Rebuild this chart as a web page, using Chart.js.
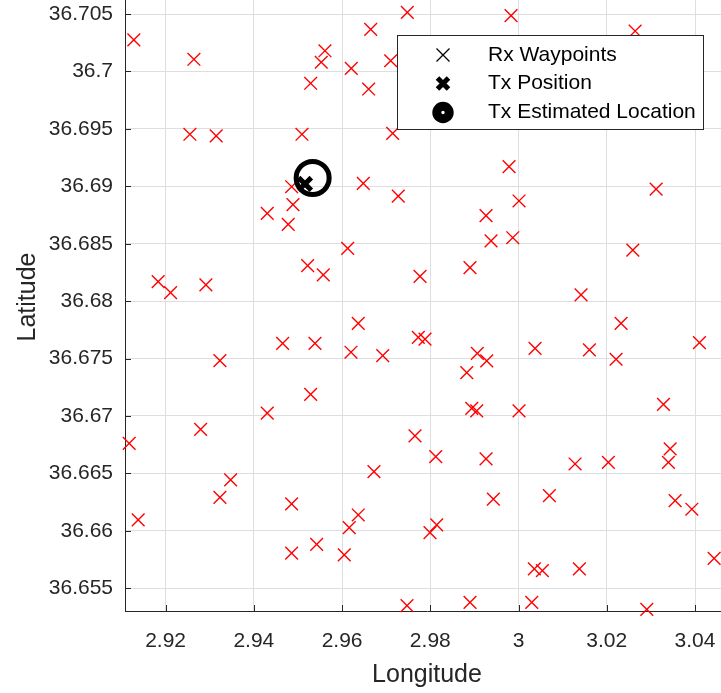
<!DOCTYPE html>
<html>
<head>
<meta charset="utf-8">
<script src="https://cdn.jsdelivr.net/npm/chart.js@4.4.0/dist/chart.umd.min.js"></script>
<style>
  html, body { margin: 0; padding: 0; background: #fff; overflow: hidden; }
  body { width: 721px; height: 693px; position: relative; }
  #wrap { position: absolute; left: 0; top: -17px; }
</style>
</head>
<body>
<div id="wrap"><canvas id="geoChart" width="729" height="710"></canvas></div>
<script>
// Rx waypoints (longitude / latitude)
const rxLon = [
  2.9128, 2.92642, 2.95612, 2.95528, 2.96649, 2.97479, 2.96209, 2.97102, 2.95288, 2.96603,
  2.92551, 2.93147, 2.95091, 2.97147, 2.94857, 2.96481, 2.97274, 2.94887, 2.94304, 2.94780,
  2.96127, 2.95220, 2.95574, 2.97767, 2.91832, 2.92113, 2.92914, 2.99830, 3.02642, 2.99785,
  3.03118, 3.00011, 2.99263, 2.99377, 2.99869, 2.98900, 3.02590, 3.01417, 2.96367, 2.94653,
  2.95386, 2.96202, 2.96921, 2.93231, 2.95288, 2.94304, 2.92794, 2.91175, 2.97728, 2.97880,
  2.97653, 2.96723, 2.93474, 2.93231, 2.94857, 2.96367, 2.96163, 2.91379, 2.94857, 2.95424,
  2.96050, 2.97472, 3.02324, 3.04100, 2.99066, 2.99279, 3.00374, 3.01606, 3.02211, 2.98826,
  2.98939, 2.99052, 3.00011, 3.03284, 2.98123, 2.99263, 3.01281, 3.02036, 3.03436, 3.03397,
  2.99429, 3.00699, 3.03549, 3.03928, 2.98145, 2.97993, 3.04433, 3.00358, 3.00540, 3.01379,
  2.98900, 3.00299, 3.02907
];
const rxLat = [
  36.70274, 36.70106, 36.70180, 36.70080, 36.70367, 36.70515, 36.70027, 36.70093, 36.69897, 36.69847,
  36.69453, 36.69438, 36.69453, 36.69461, 36.68996, 36.69026, 36.68915, 36.68840, 36.68765, 36.68669,
  36.68460, 36.68309, 36.68228, 36.68216, 36.68169, 36.68074, 36.68141, 36.70485, 36.70352, 36.69171,
  36.68976, 36.68872, 36.68744, 36.68524, 36.68552, 36.68291, 36.68445, 36.68054, 36.67807, 36.67633,
  36.67633, 36.67555, 36.67525, 36.67482, 36.67189, 36.67024, 36.66884, 36.66762, 36.67685, 36.67670,
  36.66826, 36.66515, 36.66443, 36.66292, 36.66234, 36.66138, 36.66028, 36.66095, 36.65805, 36.65883,
  36.65790, 36.65348, 36.67807, 36.67638, 36.67546, 36.67479, 36.67589, 36.67575, 36.67494, 36.67377,
  36.67067, 36.67044, 36.67044, 36.67102, 36.66646, 36.66626, 36.66582, 36.66597, 36.66713, 36.66597,
  36.66277, 36.66306, 36.66263, 36.66188, 36.66051, 36.65984, 36.65761, 36.65668, 36.65653, 36.65668,
  36.65378, 36.65378, 36.65317
];
const txPosLon = [2.95159];
const txPosLat = [36.69020];
const txEstLon = [2.95333];
const txEstLat = [36.69072];

const xTicks = [2.92, 2.94, 2.96, 2.98, 3.00, 3.02, 3.04];
const yTicks = [36.655, 36.66, 36.665, 36.67, 36.675, 36.68, 36.685, 36.69, 36.695, 36.7, 36.705];
const xRange = [2.9108, 3.0477];
const yRange = [36.65302, 36.7077];

const legendLabels = ['Rx Waypoints', 'Tx Position', 'Tx Estimated Location'];

const axisCol = '#262626';
Chart.defaults.font.family = '"Liberation Sans", Arial, Helvetica, sans-serif';

function pts(xs, ys) {
  return xs.map((x, i) => ({ x: x, y: ys[i] }));
}
function fmt(v) {
  return parseFloat(v.toFixed(4)).toString();
}
// keep the plot box exactly where the axes put it
function noPad(s) {
  s.paddingTop = 0; s.paddingBottom = 0; s.paddingLeft = 0; s.paddingRight = 0;
}

// MATLAB style inward tick marks
const innerTicks = {
  id: 'innerTicks',
  beforeDatasetsDraw(chart) {
    const { ctx, chartArea: a, scales } = chart;
    ctx.save();
    ctx.strokeStyle = axisCol;
    ctx.lineWidth = 1;
    ctx.beginPath();
    yTicks.forEach(v => {
      const y = Math.round(scales.y.getPixelForValue(v)) + 0.5;
      ctx.moveTo(a.left, y); ctx.lineTo(a.left + 6, y);
    });
    xTicks.forEach(v => {
      const x = Math.round(scales.x.getPixelForValue(v)) + 0.5;
      ctx.moveTo(x, a.bottom); ctx.lineTo(x, a.bottom - 6);
    });
    ctx.stroke();
    ctx.restore();
  }
};

// legend box in the upper right
const boxLegend = {
  id: 'boxLegend',
  afterDatasetsDraw(chart) {
    const ctx = chart.ctx;
    const bx = 397.5, by = 52.5, bw = 306, bh = 94;
    ctx.save();
    ctx.fillStyle = '#fff';
    ctx.fillRect(bx, by, bw, bh);
    ctx.strokeStyle = axisCol;
    ctx.lineWidth = 1;
    ctx.strokeRect(bx, by, bw, bh);

    const rows = [72, 100.5, 129.5];
    const mx = 443;
    // Rx marker
    ctx.strokeStyle = '#000';
    ctx.lineWidth = 1.3;
    ctx.beginPath();
    ctx.moveTo(mx - 6.5, rows[0] - 6.5); ctx.lineTo(mx + 6.5, rows[0] + 6.5);
    ctx.moveTo(mx + 6.5, rows[0] - 6.5); ctx.lineTo(mx - 6.5, rows[0] + 6.5);
    ctx.stroke();
    // Tx position marker
    ctx.lineWidth = 5;
    ctx.beginPath();
    ctx.moveTo(mx - 5.5, rows[1] - 5.5); ctx.lineTo(mx + 5.5, rows[1] + 5.5);
    ctx.moveTo(mx + 5.5, rows[1] - 5.5); ctx.lineTo(mx - 5.5, rows[1] + 5.5);
    ctx.stroke();
    // Tx estimated marker
    ctx.lineWidth = 9;
    ctx.beginPath();
    ctx.arc(mx, rows[2], 6.2, 0, Math.PI * 2);
    ctx.stroke();

    ctx.fillStyle = '#000';
    ctx.font = '21px "Liberation Sans", Arial, sans-serif';
    ctx.textBaseline = 'middle';
    ctx.textAlign = 'left';
    legendLabels.forEach((t, i) => ctx.fillText(t, 488, rows[i]));
    ctx.restore();
  }
};

const ctx = document.getElementById('geoChart').getContext('2d');
new Chart(ctx, {
  type: 'scatter',
  data: {
    datasets: [
      {
        label: legendLabels[0],
        data: pts(rxLon, rxLat),
        pointStyle: 'crossRot',
        pointRadius: 9,
        borderColor: '#ff0000',
        borderWidth: 1.4,
        order: 3,
        clip: false
      },
      {
        label: legendLabels[1],
        data: pts(txPosLon, txPosLat),
        pointStyle: 'crossRot',
        pointRadius: 9,
        borderColor: '#000',
        borderWidth: 5,
        order: 2,
        clip: false
      },
      {
        label: legendLabels[2],
        data: pts(txEstLon, txEstLat),
        pointStyle: 'circle',
        pointRadius: 16.5,
        borderColor: '#000',
        backgroundColor: 'rgba(0,0,0,0)',
        borderWidth: 5,
        order: 1,
        clip: false
      }
    ]
  },
  options: {
    responsive: false,
    animation: false,
    layout: { padding: 0, autoPadding: false },
    plugins: {
      legend: { display: false },
      tooltip: { enabled: false }
    },
    elements: { point: { hoverRadius: 9 } },
    scales: {
      x: {
        type: 'linear',
        min: xRange[0],
        max: xRange[1],
        afterBuildTicks: s => { s.ticks = xTicks.map(v => ({ value: v })); },
        afterFit: s => { s.height = 82; noPad(s); },
        grid: { color: '#dedede', drawTicks: false },
        border: { color: axisCol, width: 1 },
        ticks: {
          color: axisCol,
          font: { size: 21 },
          padding: 18,
          maxRotation: 0,
          callback: v => fmt(v)
        },
        title: {
          display: true,
          text: 'Longitude',
          color: axisCol,
          font: { size: 25 },
          padding: { top: 0, bottom: 3 }
        }
      },
      y: {
        type: 'linear',
        min: yRange[0],
        max: yRange[1],
        afterBuildTicks: s => { s.ticks = yTicks.map(v => ({ value: v })); },
        afterFit: s => { s.width = 125; noPad(s); },
        grid: { color: '#dedede', drawTicks: false },
        border: { color: axisCol, width: 1 },
        ticks: {
          color: axisCol,
          font: { size: 21 },
          padding: 12,
          callback: v => fmt(v)
        },
        title: {
          display: true,
          text: 'Latitude',
          color: axisCol,
          font: { size: 25 },
          padding: { top: 13, bottom: 0 }
        }
      }
    }
  },
  plugins: [innerTicks, boxLegend]
});
</script>
</body>
</html>
